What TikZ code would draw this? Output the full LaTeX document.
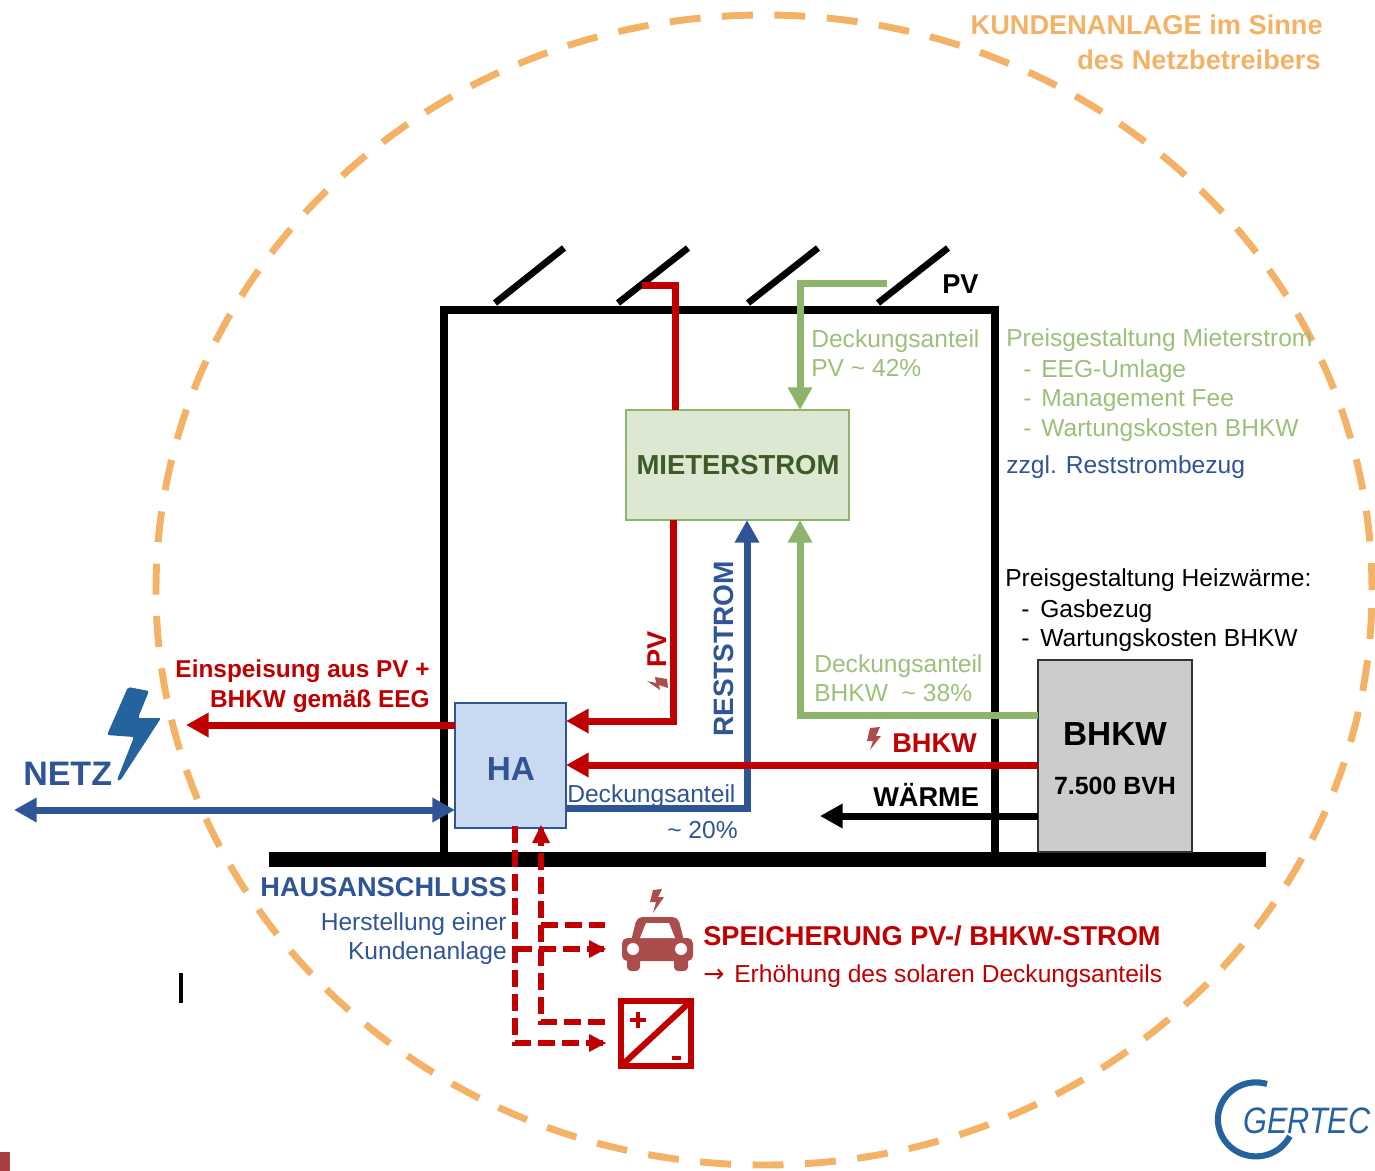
\documentclass[tikz,border=0pt]{standalone}
\usepackage{fontspec}
\setmainfont{Liberation Sans}
\newfontfamily\arrowfont{DejaVu Sans}
\usetikzlibrary{arrows.meta}
\definecolor{cred}{HTML}{C00000}
\definecolor{cblue}{HTML}{2F5597}
\definecolor{cgreen}{HTML}{8DB56A}
\definecolor{ctxtgreen}{HTML}{9CC07A}
\definecolor{corange}{HTML}{F4B266}
\definecolor{cicon}{HTML}{AB4D4D}
\definecolor{cbolt}{HTML}{25639F}
\definecolor{cmiet}{HTML}{DDE8D2}
\definecolor{cha}{HTML}{C9DAF0}
\definecolor{cmtxt}{HTML}{3F5A28}
\definecolor{cmark}{HTML}{A84040}
\newcommand{\fs}[1]{\fontsize{#1}{#1}\selectfont}
\tikzset{
 x=0.75pt,y=-0.75pt,
 flow/.style={line width=5.25pt,line join=miter},
 tipA/.style={-{Triangle[length=17pt,width=17.5pt]}},
 tipB/.style={{Triangle[length=17pt,width=17.5pt]}-{Triangle[length=17pt,width=17.5pt]}},
 dashflow/.style={line width=5pt,draw=cred,dash pattern=on 13pt off 5pt},
 wall/.style={line width=5.5pt,draw=black},
 panel/.style={line width=5pt,draw=black},
 tx/.style={inner sep=0pt,anchor=base west,font=\fs{18.45}},
 txr/.style={inner sep=0pt,anchor=base east,font=\fs{18.45}},
 bx/.style={inner sep=0pt,anchor=base west,font=\fs{20.4}\bfseries},
 bxr/.style={inner sep=0pt,anchor=base east,font=\fs{20.4}\bfseries},
 box/.style={inner sep=0pt,outer sep=0pt,line width=2pt,anchor=north west},
}
\begin{document}
\begin{tikzpicture}
\useasboundingbox (0,0) rectangle (1375,1171);
% customer area
\draw[corange,line width=5.2pt,dash pattern=on 23.2pt off 16.15pt,dash phase=25.85pt] (764,590) ellipse [x radius=608,y radius=575];
\node[bxr,text=corange] (kunde1) at (1323,34) {KUNDENANLAGE im Sinne};
\node[bxr,text=corange] (kunde2) at (1321,69) {des Netzbetreibers};
% ground and building
\coordinate (g1) at (269,859.5); \coordinate (g2) at (1266,859.5);
\draw[line width=11.5pt] (g1) -- (g2);
\coordinate (w1) at (444,855); \coordinate (w2) at (444,310); \coordinate (w3) at (995,310); \coordinate (w4) at (995,855);
\draw[wall,line join=miter] (w1) -- (w2) -- (w3) -- (w4);
% PV panels
\coordinate (p1a) at (495,303); \coordinate (p1b) at (564,248);
\coordinate (p2a) at (618,303); \coordinate (p2b) at (688,248);
\coordinate (p3a) at (748,303); \coordinate (p3b) at (818,248);
\coordinate (p4a) at (878,303); \coordinate (p4b) at (948,248);
\draw[panel] (p1a) -- (p1b); \draw[panel] (p2a) -- (p2b); \draw[panel] (p3a) -- (p3b); \draw[panel] (p4a) -- (p4b);
\node[bx] (pvlab) at (942,293) {PV};
% boxes
\node[box,draw=cgreen,fill=cmiet,minimum width=223*0.75pt,minimum height=110*0.75pt] (mieter) at (626,410) {};
\node[inner sep=0pt,anchor=base,font=\fs{20.6}\bfseries,text=cmtxt] (mieterlab) at (738,474) {MIETERSTROM};
\node[box,draw=cblue,fill=cha,minimum width=111*0.75pt,minimum height=125*0.75pt] (ha) at (455,703) {};
\node[inner sep=0pt,anchor=base,font=\fs{25}\bfseries,text=cblue] (halab) at (511,780) {HA};
\node[box,draw=black!80,fill=black!20,minimum width=154*0.75pt,minimum height=192*0.75pt] (bhkw) at (1038,660) {};
\node[inner sep=0pt,anchor=base,font=\fs{25}\bfseries] (bhkwlab) at (1115,745) {BHKW};
\node[inner sep=0pt,anchor=base,font=\fs{18.7}\bfseries] (bvh) at (1115,794) {7.500 BVH};
% flows
\coordinate (rtop) at (642,285); \coordinate (rc) at (675,285);
\draw[flow,cred] (rtop) -- (rc) -- (rc |- mieter.north);
\coordinate (r2) at (673,721);
\draw[flow,cred,tipA] (r2 |- mieter.south) -- (r2) -- (ha.east |- r2);
\coordinate (gtop) at (887,283); \coordinate (gc) at (800,283);
\draw[flow,cgreen,tipA] (gtop) -- (gc) -- (gc |- mieter.north);
\coordinate (g3) at (800,715);
\draw[flow,cgreen,tipA] (bhkw.west |- g3) -- (g3) -- (g3 |- mieter.south);
\coordinate (b1) at (747,808);
\draw[flow,cblue,tipA] (ha.east |- b1) -- (b1) -- (b1 |- mieter.south);
\coordinate (rn) at (186,725);
\draw[flow,cred,tipA] (ha.west |- rn) -- (rn);
\coordinate (nb) at (14,810);
\draw[flow,cblue,tipB] (nb) -- (ha.west |- nb);
\coordinate (rb) at (568,765);
\draw[flow,cred,tipA] (bhkw.west |- rb) -- (ha.east |- rb);
\coordinate (wm) at (820,816);
\draw[flow,black,tipA] (bhkw.west |- wm) -- (wm);
% dashed storage connections
\coordinate (d1) at (515,826); \coordinate (d2) at (515,1043); \coordinate (d3) at (606,1043);
\coordinate (d4) at (515,949); \coordinate (d5) at (606,949);
\coordinate (d6) at (541,1022); \coordinate (d7) at (605,1022); \coordinate (d8) at (541,925); \coordinate (d9) at (605,925); \coordinate (d10) at (541,825);
\draw[dashflow] (d1) -- (d2) -- (d3);
\draw[dashflow] (d4) -- (d5);
\draw[dashflow] (d7) -- (d6) -- (d10);
\draw[dashflow] (d8) -- (d9);
\fill[cred] (606,1043) -- (589,1034) -- (589,1052) -- cycle;
\fill[cred] (606,949) -- (589,940) -- (589,958) -- cycle;
\fill[cred] (541,825) -- (532,843) -- (550,843) -- cycle;
% lightning, Netz
\fill[cbolt,rounded corners=1.5pt] (128,687) -- (149,691) -- (138,718) -- (161,718) -- (120,781) -- (117,780) -- (134,737) -- (107,735) -- cycle;
\node[bx,text=cblue,font=\fs{25.5}\bfseries] (netz) at (23,785) {NETZ};
% small bolts
\fill[cicon] (653,890) -- (662,889) -- (658,897) -- (664,897) -- (653,913) -- (656,902) -- (650,902) -- cycle;
\fill[cicon] (870,728) -- (880,727) -- (876,736) -- (881,736) -- (870,750) -- (873,741) -- (867,741) -- cycle;
\fill[cicon] (667,679) -- (668,688) -- (659,685) -- (660,690) -- (647,681) -- (656,683) -- (655,677) -- cycle;
% car
\fill[cicon,rounded corners=4pt] (622,938) rectangle (693,961);
\fill[cicon,rounded corners=4pt] (630,945) -- (637,917) -- (678,917) -- (685,945) -- cycle;
\fill[cicon,rounded corners=3pt] (627,955) rectangle (640,971);
\fill[cicon,rounded corners=3pt] (674,955) rectangle (688,971);
\fill[white] (640,938) -- (646,923) -- (669,923) -- (675,938) -- cycle;
\fill[white] (633,949) circle[radius=6];
\fill[white] (681,949) circle[radius=6];
% battery
\coordinate (bat1) at (621,1001); \coordinate (bat2) at (691,1066);
\draw[cred,line width=4.5pt] (bat1) rectangle (bat2);
\draw[cred,line width=4.5pt] (bat1 |- bat2) -- (bat2 |- bat1);
\draw[cred,line width=3pt] (630,1020) -- (646,1020) (638,1012) -- (638,1028);
\draw[cred,line width=2.6pt] (672,1058) -- (681,1058);
% texts green
\node[tx,text=ctxtgreen] (dp1) at (811,347) {Deckungsanteil};
\node[tx,text=ctxtgreen] (dp2) at (811,376) {PV \textasciitilde\ 42\%};
\node[tx,text=ctxtgreen] (pm1) at (1006,346) {Preisgestaltung Mieterstrom};
\node[tx,text=ctxtgreen] (pm2a) at (1023,377) {-};
\node[tx,text=ctxtgreen] (pm2) at (1041,377) {EEG-Umlage};
\node[tx,text=ctxtgreen] (pm3a) at (1023,406) {-};
\node[tx,text=ctxtgreen] (pm3) at (1041,406) {Management Fee};
\node[tx,text=ctxtgreen] (pm4a) at (1023,436) {-};
\node[tx,text=ctxtgreen] (pm4) at (1041,436) {Wartungskosten BHKW};
\node[tx,text=cblue] (zz) at (1006,473) {zzgl. Reststrombezug};
\node[tx] (ph1) at (1005,586) {Preisgestaltung Heizwärme:};
\node[tx] (ph2a) at (1021,617) {-};
\node[tx] (ph2) at (1040,617) {Gasbezug};
\node[tx] (ph3a) at (1021,646) {-};
\node[tx] (ph3) at (1040,646) {Wartungskosten BHKW};
\node[tx,text=ctxtgreen] (db1) at (814,672) {Deckungsanteil};
\node[tx,text=ctxtgreen] (db2) at (814,701) {BHKW \ \textasciitilde\ 38\%};
\node[bx,text=cred] (bhlab) at (892,752) {BHKW};
\node[bx,text=black] (wlab) at (873,806) {WÄRME};
\node[tx,text=cblue] (dh1) at (567,802) {Deckungsanteil};
\node[tx,text=cblue] (dh2) at (667,838) {\textasciitilde\ 20\%};
\node[bx,text=cblue,rotate=90,font=\fs{21}\bfseries] (rest) at (733,737) {RESTSTROM};
\node[bx,text=cred,rotate=90] (pvrot) at (666,668) {PV};
\node[bxr,text=cred,font=\fs{18.3}\bfseries] (ein1) at (430,677) {Einspeisung aus PV +};
\node[bxr,text=cred,font=\fs{18.3}\bfseries] (ein2) at (430,707) {BHKW gemäß EEG};
\node[bxr,text=cblue] (hs) at (507,896) {HAUSANSCHLUSS};
\node[txr,text=cblue] (hs1) at (507,930) {Herstellung einer};
\node[txr,text=cblue] (hs2) at (507,959) {Kundenanlage};
\node[bx,text=cred] (sp) at (703,945) {SPEICHERUNG PV-/ BHKW-STROM};
\node[tx,text=cred,font=\fs{19}\arrowfont] (erarrow) at (703,982) {→};
\node[tx,text=cred] (er) at (734,982) {Erhöhung des solaren Deckungsanteils};
% marks
\coordinate (m1) at (181,973); \coordinate (m2) at (181,1003);
\draw[line width=2.3pt] (m1) -- (m2);
\fill[cmark] (0,1152) rectangle (10,1171);
% logo
\draw[cbolt,line width=4.6pt] (1267,1084) arc[start angle=-73,end angle=-333,x radius=38,y radius=37];
\node[inner sep=0pt,anchor=base west,text=cbolt,font=\fs{23}\itshape] (gertec) at (1243,1133) {\scalebox{1}[1.2]{GERTEC}};
\end{tikzpicture}
\end{document}
